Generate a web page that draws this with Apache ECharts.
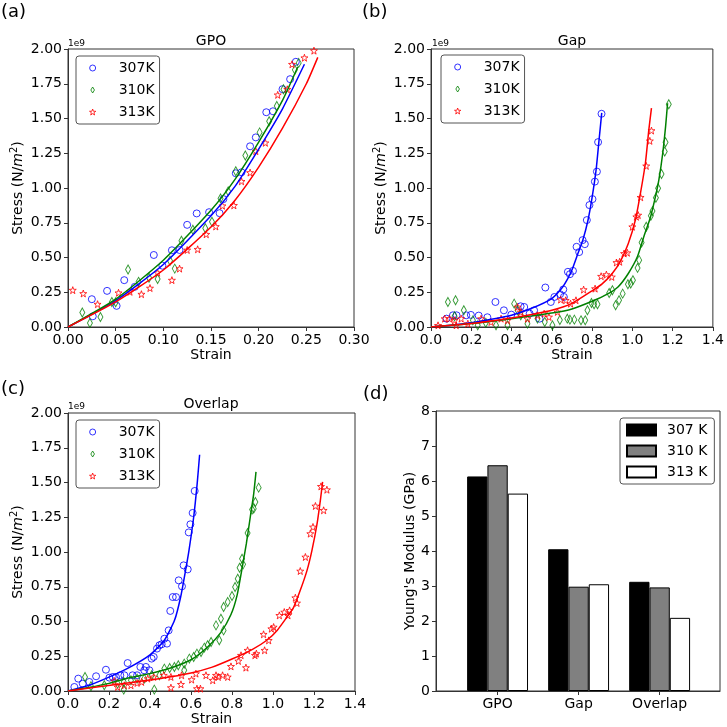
<!DOCTYPE html>
<html>
<head>
<meta charset="utf-8">
<script src="https://cdn.jsdelivr.net/npm/echarts@6/dist/echarts.min.js"></script>
<style>
html, body { margin: 0; padding: 0; background: #fff; }
#main { width: 727px; height: 727px; }
</style>
</head>
<body>
<div id="main"></div>
<script>
// stress values are in units of 1e9 N/m^2, pairs are [strain, stress]
var temps = ['307K', '310K', '313K'];

var gpo307 = [[0.025,0.20],[0.026,0.077],[0.041,0.26],[0.051,0.152],[0.059,0.337],[0.070,0.289],[0.090,0.518],[0.099,0.441],[0.109,0.552],[0.117,0.554],[0.125,0.735],[0.135,0.817],[0.148,0.826],[0.159,0.819],[0.163,0.92],[0.176,1.106],[0.182,1.113],[0.191,1.30],[0.197,1.364],[0.208,1.545],[0.215,1.552],[0.225,1.711],[0.233,1.783],[0.239,1.908]];
var gpo310 = [[0.015,0.104],[0.023,0.029],[0.034,0.072],[0.046,0.18],[0.050,0.178],[0.063,0.414],[0.074,0.325],[0.085,0.354],[0.094,0.345],[0.107,0.477],[0.112,0.42],[0.119,0.62],[0.131,0.70],[0.144,0.71],[0.151,0.757],[0.160,0.925],[0.168,0.976],[0.176,1.12],[0.186,1.234],[0.201,1.40],[0.211,1.48],[0.219,1.59],[0.226,1.71],[0.238,1.85],[0.242,1.90]];
var gpo313 = [[0.005,0.265],[0.016,0.241],[0.031,0.164],[0.053,0.246],[0.065,0.253],[0.077,0.236],[0.086,0.28],[0.094,0.39],[0.109,0.337],[0.117,0.42],[0.125,0.554],[0.136,0.559],[0.145,0.667],[0.155,0.723],[0.162,0.872],[0.174,0.875],[0.182,1.048],[0.191,1.111],[0.197,1.265],[0.207,1.325],[0.220,1.67],[0.230,1.71],[0.235,1.89],[0.248,1.937],[0.258,1.988]];
var gpoFit307 = [[0,0],[0.05,0.19],[0.1,0.45],[0.15,0.80],[0.175,1.01],[0.2,1.28],[0.225,1.57],[0.248,1.89]];
var gpoFit310 = [[0,0],[0.05,0.20],[0.1,0.48],[0.15,0.84],[0.175,1.06],[0.2,1.33],[0.225,1.63],[0.241,1.87]];
var gpoFit313 = [[0,0],[0.05,0.18],[0.1,0.41],[0.15,0.72],[0.175,0.91],[0.2,1.15],[0.225,1.43],[0.25,1.75],[0.262,1.94]];

var gap307 = [[0.077,0.06],[0.109,0.084],[0.127,0.084],[0.175,0.084],[0.198,0.087],[0.237,0.082],[0.28,0.07],[0.32,0.18],[0.362,0.12],[0.399,0.089],[0.445,0.149],[0.463,0.144],[0.49,0.096],[0.512,0.12],[0.539,0.06],[0.568,0.284],[0.595,0.18],[0.613,0.216],[0.641,0.236],[0.657,0.27],[0.66,0.216],[0.68,0.397],[0.69,0.38],[0.705,0.404],[0.723,0.577],[0.736,0.539],[0.753,0.625],[0.764,0.596],[0.774,0.769],[0.787,0.877],[0.802,0.92],[0.814,1.046],[0.824,1.118],[0.83,1.33],[0.847,1.534]];
var gap310 = [[0.084,0.18],[0.117,0.077],[0.122,0.192],[0.163,0.12],[0.208,0.048],[0.232,0.012],[0.272,0.03],[0.323,0.012],[0.38,0.012],[0.413,0.168],[0.43,0.12],[0.446,0.084],[0.479,0.024],[0.529,0.06],[0.565,0.036],[0.603,0.012],[0.64,0.05],[0.677,0.06],[0.69,0.053],[0.712,0.053],[0.745,0.048],[0.766,0.048],[0.777,0.12],[0.797,0.173],[0.81,0.163],[0.827,0.163],[0.885,0.245],[0.901,0.264],[0.917,0.156],[0.934,0.192],[0.952,0.24],[0.978,0.308],[0.992,0.3125],[1.003,0.337],[1.026,0.425],[1.034,0.481],[1.046,0.608],[1.069,0.721],[1.092,0.80],[1.1,0.834],[1.117,0.93],[1.128,0.998],[1.145,1.101],[1.161,1.262],[1.165,1.329],[1.181,1.603]];
var gap313 = [[0.035,0.012],[0.068,0.06],[0.092,0.06],[0.117,0.048],[0.125,0.012],[0.15,0.06],[0.183,0.024],[0.249,0.06],[0.298,0.036],[0.348,0.06],[0.38,0.048],[0.43,0.144],[0.446,0.108],[0.479,0.06],[0.529,0.084],[0.562,0.096],[0.586,0.072],[0.628,0.108],[0.644,0.197],[0.669,0.192],[0.693,0.168],[0.72,0.192],[0.758,0.269],[0.815,0.276],[0.845,0.365],[0.871,0.377],[0.898,0.36],[0.921,0.464],[0.937,0.469],[0.959,0.529],[0.975,0.534],[1.0,0.721],[1.02,0.793],[1.029,0.805],[1.041,0.933],[1.069,1.159],[1.087,1.339],[1.095,1.413]];
var gapFit307 = [[0,0],[0.1,0.012],[0.2,0.03],[0.3,0.055],[0.4,0.085],[0.5,0.135],[0.6,0.205],[0.65,0.28],[0.68,0.35],[0.7,0.41],[0.73,0.53],[0.755,0.63],[0.78,0.77],[0.8,0.93],[0.82,1.13],[0.833,1.32],[0.848,1.54]];
var gapFit310 = [[0,0],[0.2,0.025],[0.4,0.06],[0.5,0.08],[0.6,0.1],[0.7,0.13],[0.8,0.185],[0.88,0.24],[0.93,0.29],[0.98,0.385],[1.025,0.505],[1.057,0.65],[1.09,0.79],[1.115,0.94],[1.132,1.06],[1.151,1.25],[1.165,1.44],[1.175,1.61]];
var gapFit313 = [[0,0],[0.2,0.025],[0.4,0.065],[0.5,0.09],[0.6,0.12],[0.7,0.17],[0.8,0.26],[0.85,0.31],[0.9,0.385],[0.94,0.47],[0.98,0.6],[1.015,0.77],[1.04,0.96],[1.065,1.18],[1.082,1.42],[1.095,1.575]];

var ovl307 = [[0.031,0.029],[0.05,0.089],[0.072,0.053],[0.104,0.065],[0.137,0.106],[0.185,0.153],[0.202,0.096],[0.218,0.101],[0.234,0.101],[0.255,0.113],[0.275,0.113],[0.291,0.201],[0.315,0.113],[0.337,0.113],[0.353,0.173],[0.372,0.149],[0.38,0.173],[0.397,0.149],[0.408,0.233],[0.418,0.245],[0.434,0.305],[0.446,0.329],[0.457,0.336],[0.47,0.376],[0.483,0.341],[0.491,0.436],[0.499,0.576],[0.511,0.676],[0.527,0.676],[0.54,0.796],[0.556,0.753],[0.564,0.904],[0.584,0.875],[0.589,1.141],[0.597,1.199],[0.608,1.281],[0.618,1.439]];
var ovl310 = [[0.083,0.101],[0.112,0.034],[0.177,0.041],[0.242,0.053],[0.272,0.065],[0.272,0.01],[0.307,0.077],[0.337,0.089],[0.372,0.089],[0.408,0.113],[0.421,0.01],[0.446,0.113],[0.47,0.161],[0.496,0.165],[0.519,0.173],[0.538,0.185],[0.567,0.197],[0.567,0.149],[0.592,0.233],[0.613,0.245],[0.629,0.269],[0.649,0.281],[0.665,0.312],[0.681,0.329],[0.698,0.353],[0.722,0.472],[0.738,0.365],[0.746,0.52],[0.759,0.436],[0.759,0.604],[0.779,0.64],[0.80,0.683],[0.815,0.748],[0.828,0.808],[0.837,0.887],[0.849,0.952],[0.854,0.911],[0.876,1.137],[0.898,1.305],[0.906,1.312],[0.914,1.36],[0.93,1.463]];
var ovl313 = [[0.226,0.072],[0.242,0.029],[0.275,0.041],[0.307,0.041],[0.337,0.058],[0.359,0.065],[0.389,0.089],[0.418,0.101],[0.467,0.113],[0.502,0.101],[0.502,0.024],[0.551,0.048],[0.554,0.113],[0.603,0.082],[0.624,0.125],[0.629,0.017],[0.646,0.017],[0.673,0.113],[0.706,0.077],[0.722,0.113],[0.733,0.101],[0.754,0.113],[0.779,0.101],[0.795,0.177],[0.831,0.216],[0.844,0.257],[0.868,0.168],[0.876,0.293],[0.912,0.257],[0.919,0.269],[0.954,0.408],[0.959,0.293],[0.979,0.364],[0.992,0.448],[1.003,0.46],[1.031,0.544],[1.055,0.568],[1.073,0.544],[1.081,0.58],[1.109,0.671],[1.117,0.633],[1.133,0.863],[1.158,0.964],[1.182,1.132],[1.195,1.18],[1.207,1.331],[1.234,1.472],[1.247,1.30],[1.263,1.448]];
var ovlFit307 = [[0,0],[0.1,0.04],[0.2,0.1],[0.3,0.17],[0.4,0.26],[0.47,0.365],[0.52,0.51],[0.55,0.68],[0.575,0.88],[0.59,1.01],[0.613,1.25],[0.63,1.49],[0.642,1.70]];
var ovlFit310 = [[0,0],[0.1,0.025],[0.2,0.055],[0.3,0.095],[0.4,0.125],[0.5,0.165],[0.6,0.225],[0.68,0.315],[0.745,0.42],[0.795,0.55],[0.825,0.69],[0.85,0.89],[0.87,1.06],[0.889,1.25],[0.906,1.42],[0.917,1.576]];
var ovlFit313 = [[0,0],[0.15,0.03],[0.3,0.06],[0.45,0.09],[0.6,0.13],[0.7,0.17],[0.8,0.23],[0.9,0.3],[0.97,0.365],[1.02,0.436],[1.068,0.532],[1.1,0.6],[1.133,0.724],[1.166,0.868],[1.19,1.012],[1.215,1.204],[1.231,1.372],[1.242,1.504]];

// panel (d)
var modCats = ['GPO', 'Gap', 'Overlap'];
var modNames = ['307 K', '310 K', '313 K'];
var mod307 = [6.13, 4.05, 3.12];
var mod310 = [6.45, 2.98, 2.96];
var mod313 = [5.64, 3.05, 2.09];

var panelTitles = ['GPO', 'Gap', 'Overlap'];
var panelTags = ['(a)', '(b)', '(c)', '(d)'];

(function () {
    var dom = document.getElementById('main');
    var chart = echarts.init(dom);
    var font = 'DejaVu Sans';
    var frame = '#333';
    var colors = ['#0000ff', '#008000', '#ff0000'];
    var star = 'path://M0,-10L2.35,-3.24L9.51,-3.09L3.8,1.24L5.88,8.09L0,4L-5.88,8.09L-3.8,1.24L-9.51,-3.09L-2.35,-3.24Z';
    var diamond = 'path://M0,-10L6,0L0,10L-6,0Z';
    var symbols = ['circle', diamond, star];
    var symSizes = [7, [5, 9], 7];

    var scatterSets = [[gpo307, gpo310, gpo313], [gap307, gap310, gap313], [ovl307, ovl310, ovl313]];
    var fitSets = [[gpoFit307, gpoFit310, gpoFit313], [gapFit307, gapFit310, gapFit313], [ovlFit307, ovlFit310, ovlFit313]];

    var grids = [
        {left: 68, top: 49, width: 286, height: 278},
        {left: 431, top: 49, width: 283, height: 278},
        {left: 68, top: 413, width: 287, height: 278},
        {left: 436, top: 411, width: 284, height: 280}
    ];
    grids.forEach(function (g) {
        g.show = true;
        g.borderColor = frame;
        g.borderWidth = 1;
        g.backgroundColor = 'transparent';
    });

    var lineAxis = {lineStyle: {color: frame, width: 1}};
    var tick = {show: true, length: 4, lineStyle: {color: frame}};
    var lbl = {color: '#000', fontSize: 14, fontFamily: font, margin: 6};

    function xAx(gi, max, step, dec) {
        return {
            type: 'value', gridIndex: gi, min: 0, max: max, interval: step,
            axisLine: lineAxis, axisTick: tick, splitLine: {show: false},
            axisLabel: Object.assign({}, lbl, {formatter: function (v) { return v.toFixed(dec); }}),
            name: 'Strain', nameLocation: 'middle', nameGap: 20,
            nameTextStyle: {color: '#000', fontSize: 14, fontFamily: font}
        };
    }
    function yAx(gi) {
        return {
            type: 'value', gridIndex: gi, min: 0, max: 2, interval: 0.25,
            axisLine: lineAxis, axisTick: tick, splitLine: {show: false},
            axisLabel: Object.assign({}, lbl, {formatter: function (v) { return v.toFixed(2); }}),
            name: 'Stress (N/{i|m}{s|2})', nameLocation: 'middle', nameGap: 28,
            nameTextStyle: {
                color: '#000', fontSize: 14, fontFamily: font, lineHeight: 18,
                rich: {
                    i: {fontSize: 14, fontStyle: 'italic', fontFamily: font, color: '#000', lineHeight: 18},
                    s: {fontSize: 10, fontFamily: font, color: '#000', verticalAlign: 'top', lineHeight: 12}
                }
            }
        };
    }

    var xAxes = [xAx(0, 0.3, 0.05, 2), xAx(1, 1.4, 0.2, 1), xAx(2, 1.4, 0.2, 1)];
    var yAxes = [yAx(0), yAx(1), yAx(2)];

    // bar panel: value axis so the group spacing matches the figure
    xAxes.push({
        type: 'value', gridIndex: 3, min: -0.76, max: 2.745,
        axisLine: lineAxis, splitLine: {show: false},
        axisTick: {show: true, length: 4, lineStyle: {color: frame}, customValues: [0, 1, 2]},
        axisLabel: Object.assign({}, lbl, {
            customValues: [0, 1, 2],
            formatter: function (v) { return modCats[v]; }
        })
    });
    yAxes.push({
        type: 'value', gridIndex: 3, min: 0, max: 8, interval: 1,
        axisLine: {onZero: false, lineStyle: {color: frame, width: 1}},
        axisTick: tick, splitLine: {show: false},
        axisLabel: lbl,
        name: "Young's Modulus (GPa)", nameLocation: 'middle', nameGap: 16,
        nameTextStyle: {color: '#000', fontSize: 14, fontFamily: font}
    });

    var series = [];
    for (var p = 0; p < 3; p++) {
        for (var k = 0; k < 3; k++) {
            series.push({
                name: temps[k], type: 'scatter', xAxisIndex: p, yAxisIndex: p,
                symbol: symbols[k], symbolSize: symSizes[k],
                itemStyle: {color: 'rgba(255,255,255,0)', borderColor: colors[k], borderWidth: 1, opacity: 0.8},
                data: scatterSets[p][k]
            });
        }
        for (var k2 = 0; k2 < 3; k2++) {
            series.push({
                name: 'fit ' + temps[k2], type: 'line', xAxisIndex: p, yAxisIndex: p,
                showSymbol: false, smooth: 0.2,
                lineStyle: {color: colors[k2], width: 1.5},
                data: fitSets[p][k2], z: 3
            });
        }
    }

    var modSets = [mod307, mod310, mod313];
    var barFill = ['#000000', '#808080', '#ffffff'];
    for (var b = 0; b < 3; b++) {
        series.push({
            name: modNames[b], type: 'bar', xAxisIndex: 3, yAxisIndex: 3,
            barWidth: 20.3, barGap: '0%',
            itemStyle: {color: barFill[b], borderColor: '#000', borderWidth: 1},
            data: modCats.map(function (c, i) { return [i, modSets[b][i]]; })
        });
    }

    function legendAt(left, top, names, iw, ih, gap, pad, textPad, icon) {
        var l = {
            orient: 'vertical', left: left, top: top, data: names,
            itemWidth: iw, itemHeight: ih, itemGap: gap,
            padding: pad,
            backgroundColor: '#fff', borderColor: '#555', borderWidth: 1, borderRadius: 3,
            selectedMode: false,
            textStyle: {color: '#000', fontSize: 14, fontFamily: font, lineHeight: 14, padding: [0, 0, 0, textPad]}
        };
        if (icon) {
            l.icon = icon;
        } else {
            // hollow markers like the plotted points
            l.itemStyle = {color: 'rgba(255,255,255,0)', borderWidth: 1};
        }
        return l;
    }

    var graphics = [];
    function txt(x, y, s, size, align) {
        graphics.push({
            type: 'text', x: x, y: y,
            style: {text: s, fontSize: size, fontFamily: font, fill: '#000', align: align || 'left', verticalAlign: 'middle'}
        });
    }
    txt(1, 12, panelTags[0], 18);
    txt(362, 12, panelTags[1], 18);
    txt(1, 389, panelTags[2], 18);
    txt(363, 394, panelTags[3], 18);
    txt(211, 41, panelTitles[0], 14, 'center');
    txt(572, 41, panelTitles[1], 14, 'center');
    txt(211, 404, panelTitles[2], 14, 'center');
    txt(68, 44, '1e9', 9);
    txt(432, 44, '1e9', 9);
    txt(68, 407, '1e9', 9);

    var option = {
        backgroundColor: '#fff',
        animation: false,
        grid: grids,
        xAxis: xAxes,
        yAxis: yAxes,
        legend: [
            legendAt(76, 56, temps, 14, 6, 8, [5, 5, 5, 13], 14),
            legendAt(441, 55, temps, 14, 6, 8, [5, 5, 5, 13], 14),
            legendAt(76, 420, temps, 14, 6, 8, [5, 5, 5, 13], 14),
            legendAt(620, 418, modNames, 29, 11, 7, [5, 7, 5, 6], 6, 'rect')
        ],
        graphic: graphics,
        series: series
    };

    if (option && typeof option === "object") {
        chart.setOption(option, true);
    }
})();
</script>
</body>
</html>
